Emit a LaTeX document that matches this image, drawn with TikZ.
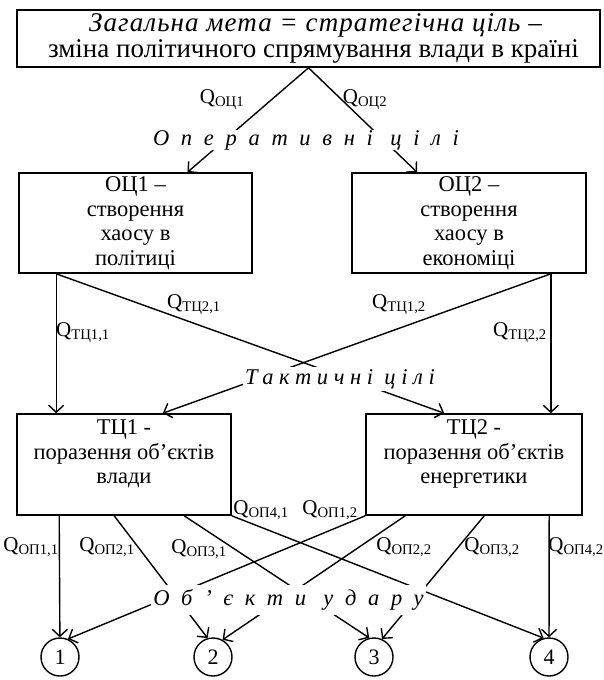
\documentclass[tikz,border=0pt]{standalone}
\usepackage{fontspec}
\setmainfont{Liberation Serif}
\usepackage{tikz}
\usetikzlibrary{positioning,calc,arrows.meta}

\newcommand{\spacedit}[2]{{\itshape\addfontfeatures{LetterSpace=#1}#2}}
\newcommand{\qlab}[1]{Q\textsubscript{#1}}

\begin{document}
\begin{tikzpicture}[x=1pt,y=-1pt,
    box/.style={draw, line width=1.6pt, align=center, inner sep=0pt, font=\fontsize{22.5}{24.5}\selectfont},
    arr/.style={line width=1.4pt, -{Straight Barb[length=7pt,width=15pt,line width=1.4pt]}},
    goal/.style={fill=white, inner sep=2pt, font=\fontsize{22.5}{24}\selectfont},
    qlbl/.style={inner sep=0pt, font=\fontsize{21}{24}\selectfont},
    num/.style={circle, draw, line width=1.4pt, minimum size=38pt, inner sep=0pt, font=\fontsize{22}{24}\selectfont}]
    \useasboundingbox (0,0) rectangle (603,680);

    % Strategic goal
    \node[box, minimum width=583pt, minimum height=57pt, font=\fontsize{27}{26}\selectfont] (sg) at (308.5,38.5)
        {\hspace*{14pt}\spacedit{4}{Загальна мета = стратегічна ціль –}\\\hspace*{10pt}зміна політичного спрямування влади в країні};

    % Operational goals
    \node[box, minimum width=233pt, minimum height=100pt] (oc1) at (135.5,223) {ОЦ1 –\\створення\\хаосу в\\політиці};
    \node[box, minimum width=234pt, minimum height=100pt] (oc2) at (469,223) {ОЦ2 –\\створення\\хаосу в\\економіці};

    % Tactical goals
    \node[box, minimum width=214pt, minimum height=101pt] (tc1) at (124,464.5) {};
    \node[box, draw=none, below=6pt of tc1.north] {ТЦ1 -\\поразення об’єктів\\влади};
    \node[box, minimum width=216pt, minimum height=101pt] (tc2) at (474,464.5) {};
    \node[box, draw=none, below=6pt of tc2.north] {ТЦ2 -\\поразення об’єктів\\енергетики};

    % Strike objects
    \foreach \i/\x in {1/60, 2/213, 3/374, 4/549}
        \node[num] (c\i) at (\x,657) {\i};

    % exits of the boxes
    \coordinate (oc1out) at ($(oc1.south west)+(38,0)$);
    \coordinate (oc2out) at ($(oc2.south east)+(-36,0)$);
    \coordinate (a1) at ($(tc1.south west)+(43,0)$);
    \coordinate (a2) at ($(tc1.south west)+(98,0)$);
    \coordinate (a3) at ($(tc1.south west)+(168,0)$);
    \coordinate (a4) at (tc1.south east);
    \coordinate (b1) at (tc2.south west);
    \coordinate (b2) at ($(tc2.south west)+(40,0)$);
    \coordinate (b3) at ($(tc2.south west)+(119,0)$);
    \coordinate (b4) at ($(tc2.south west)+(184,0)$);

    \draw[arr] (sg.south) -- ($(oc1.north)+(52,0)$);
    \draw[arr] (sg.south) -- ($(oc2.north)+(-52,0)$);
    \draw[arr] (oc1out) -- (oc1out |- tc1.north);
    \draw[arr] (oc2out) -- (oc2out |- tc2.north);
    \draw[arr] (oc1out) -- ($(tc2.north west)+(79,0)$);
    \draw[arr] (oc2out) -- ($(tc1.north east)+(-69,0)$);
    \foreach \from/\to in {a1/c1, a2/c2.106, a3/c3.104, a4/c4.106, b1/c1.66, b2/c2.61, b3/c3.66, b4/c4}
        \draw[arr] (\from) -- (\to);

    % level captions over the lines
    \node[goal, inner xsep=0pt, inner ysep=0pt, minimum height=18pt] (og) at (306,140) {\spacedit{52}{Оперативні цілі}};
    \node[goal] (tg) at (340,379) {\spacedit{25}{Тактичні цілі}};
    \node[goal, minimum height=30pt] (so) at (288.5,600) {\spacedit{52}{Об’єкти удару}};

    % weights
    \foreach \n/\x/\y/\t in {oc1/222/100/{ОЦ1}, oc2/365/100/{ОЦ2},
            t21/194/305/{ТЦ2,1}, t12/399/305/{ТЦ1,2}, t11/83/333/{ТЦ1,1}, t22/520/333/{ТЦ2,2},
            p11/31/547/{ОП1,1}, p21/107/547/{ОП2,1}, p31/199/549/{ОП3,1}, p41/261/510/{ОП4,1},
            p12/330/510/{ОП1,2}, p22/404/547/{ОП2,2}, p32/492/547/{ОП3,2}, p42/576/547/{ОП4,2}}
        \node[qlbl] (q\n) at (\x,\y) {\qlab{\t}};
\end{tikzpicture}
\end{document}
